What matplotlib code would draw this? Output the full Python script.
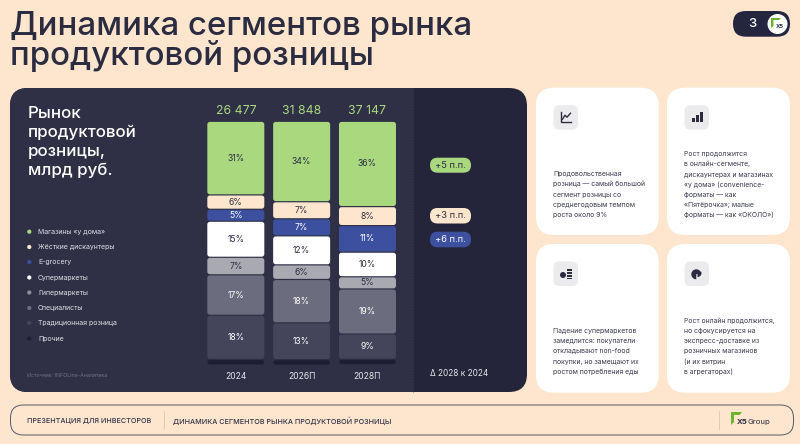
import matplotlib
matplotlib.use("Agg")
import matplotlib.pyplot as plt
from matplotlib.patches import FancyBboxPatch, Rectangle, Circle, Wedge, Polygon

plt.rcParams["font.family"] = ["Inter", "DejaVu Sans"]

# ---------- data ----------
years = ["2024", "2026П", "2028П"]
totals = ["26 477", "31 848", "37 147"]
segments = ["Магазины «у дома»", "Жёсткие дискаунтеры", "E-grocery", "Супермаркеты",
            "Гипермаркеты", "Специалисты", "Традиционная розница", "Прочие"]
# drawn shares
shops = [30.2, 33.0, 35.0]
discounters = [5.9, 7.0, 7.8]
egrocery = [4.9, 7.0, 10.9]
supers = [14.8, 11.9, 10.1]
hypers = [7.2, 6.0, 5.0]
specialists = [16.6, 17.8, 18.5]
traditional = [18.1, 15.1, 10.3]
others = [2.3, 2.3, 2.3]
series = [shops, discounters, egrocery, supers, hypers, specialists, traditional, others]
# printed labels
labels_2024 = ["31%", "6%", "5%", "15%", "7%", "17%", "18%", ""]
labels_2026 = ["34%", "7%", "7%", "12%", "6%", "18%", "13%", ""]
labels_2028 = ["36%", "8%", "11%", "10%", "5%", "19%", "9%", ""]
bar_labels = [labels_2024, labels_2026, labels_2028]
delta_labels = ["+5 п.п.", "+3 п.п.", "+6 п.п."]
delta_note = "∆ 2028 к 2024"
title_lines = ["Динамика сегментов рынка", "продуктовой розницы"]
panel_title = ["Рынок", "продуктовой", "розницы,", "млрд руб."]
source = "Источник: INFOLine-Аналитика"
card_texts = [
    ["Продовольственная", "розница — самый большой", "сегмент розницы со",
     "среднегодовым темпом", "роста около 9%"],
    ["Рост продолжится", "в онлайн-сегменте,", "дискаунтерах и магазинах",
     "«у дома» (convenience-", "форматы — как", "«Пятёрочка»; малые", "форматы — как «ОКОЛО»)"],
    ["Падение супермаркетов", "замедлится: покупатели", "откладывают non-food",
     "покупки, но замещают их", "ростом потребления еды"],
    ["Рост онлайн продолжится,", "но сфокусируется на", "экспресс-доставке из",
     "розничных магазинов", "(и их витрин", "в агрегаторах)"],
]
footer_left = "ПРЕЗЕНТАЦИЯ ДЛЯ ИНВЕСТОРОВ"
footer_right = "ДИНАМИКА СЕГМЕНТОВ РЫНКА ПРОДУКТОВОЙ РОЗНИЦЫ"

# ---------- style ----------
BG = "#fde6cd"; INK = "#2b2c40"; PANEL = "#2f3046"; PANEL_D = "#24253a"
GREEN = "#a9d87f"; BLUE = "#3d50a0"
seg_colors = [GREEN, BG, BLUE, "#ffffff", "#a9a9b2", "#6b6c7d", "#44445a", "#1d1e33"]
dot_colors = [GREEN, BG, BLUE, "#ffffff", "#8f8f9c", "#6b6c7d", "#44445a", "#1d1e33"]
label_colors = [INK, INK, "#ffffff", INK, INK, "#ffffff", "#ffffff", "#ffffff"]

W, H = 800, 444
fig = plt.figure(figsize=(W / 100, H / 100), dpi=100, facecolor=BG)
bg = fig.add_axes([0, 0, 1, 1])
bg.set_xlim(0, W); bg.set_ylim(H, 0); bg.axis("off")


def rbox(x0, y0, x1, y1, r, fc, ec="none", lw=0, z=1, ax=bg):
    p = FancyBboxPatch((x0, y0), x1 - x0, y1 - y0, boxstyle=f"round,pad=0,rounding_size={r}",
                       fc=fc, ec=ec, lw=lw, zorder=z)
    ax.add_patch(p)
    return p


def t(x, y, s, size, color=INK, ha="left", weight="normal", z=5, va="center"):
    return bg.text(x, y, s, fontsize=size, color=color, ha=ha, va=va, fontweight=weight, zorder=z)


# title
for s, y in zip(title_lines, [35, 65]):
    t(10, y, s, 23.8, INK, weight="medium", va="baseline")

# page pill
rbox(733, 11, 790, 36.7, 12.8, "#24253f")
t(752.5, 24, "3", 9.5, "#ffffff", ha="center", weight="medium")
bg.add_patch(Circle((777.5, 24), 10, fc="#ffffff", zorder=3))
bg.add_patch(Polygon([(771, 18), (781, 18), (779, 20), (773.5, 20), (773.5, 26), (771, 28)], fc="#6cb52d", zorder=4))
t(780, 26.5, "X5", 4.2, INK, ha="center", weight="bold")

# dark panel
rbox(10, 88, 527, 392, 18, PANEL_D, z=1)
left = rbox(10, 88, 527, 392, 18, PANEL, z=1.1)
left.set_clip_path(Rectangle((0, 0), 413, H, transform=bg.transData))
bg.plot([413, 413], [88, 392], color="#3c3d54", lw=0.5, ls=(0, (2, 2)), zorder=1.2)

for s, y in zip(panel_title, [113, 132.5, 151.5, 170]):
    t(27.5, y, s, 12.2, "#ffffff", weight="medium")

for s, c, y in zip(segments, dot_colors, [231.7, 247, 262, 277.5, 292.5, 308, 323, 338.5]):
    bg.add_patch(Circle((29.3, y), 2.1, fc=c, zorder=3))
    t(38, y, s, 5.0, "#dedee4")
t(27, 375.5, source, 3.8, "#6f7085")

# delta pills
for s, fc, tc, y0, y1 in zip(delta_labels, [GREEN, BG, BLUE], [INK, INK, "#ffffff"],
                             [157.7, 208, 231.7], [172.7, 223.5, 247.3]):
    rbox(430, y0, 471, y1, 7.5, fc, z=3)
    t(450.5, (y0 + y1) / 2, s, 6.7, tc, ha="center")
t(430.5, 373.3, delta_note, 6.0, "#e6e6ea")

# bars
ax = fig.add_axes([202.9 / W, 1 - 365 / H, (400.4 - 202.9) / W, (365 - 121.3) / H], zorder=2)
ax.patch.set_alpha(0)
ax.set_xlim(-0.5, 2.5); ax.set_ylim(0, 100)
for sp in ax.spines.values():
    sp.set_visible(False)
ax.set_xticks(range(3)); ax.set_xticklabels(years, fontsize=6.1, color="#e6e6ea")
ax.tick_params(axis="x", length=0, pad=5)
ax.set_yticks([])
px_x = 3 / (400.4 - 202.9); px_y = 100 / (365 - 121.3)
aspect = (px_y / px_x)
gap = 1.2 * px_y
width = 57 * px_x

tops = [100.0, 100.0, 100.0]
for k, vals in enumerate(series):
    bottoms = [tp - v for tp, v in zip(tops, vals)]
    rects = ax.bar(range(3), vals, width=width, bottom=bottoms, color=seg_colors[k])
    for i, r in enumerate(rects):
        r.set_visible(False)
        rr = 2.6 * px_x
        ax.add_patch(FancyBboxPatch((r.get_x(), r.get_y() + gap / 2), r.get_width(), r.get_height() - gap,
                                    boxstyle=f"round,pad=0,rounding_size={rr}", mutation_aspect=aspect,
                                    fc=seg_colors[k], ec="none"))
        lab = bar_labels[i][k]
        if lab:
            ax.text(i, r.get_y() + r.get_height() / 2, lab, ha="center", va="center",
                    fontsize=6.2, color=label_colors[k])
    tops = bottoms
for i, s in enumerate(totals):
    ax.text(i, 100 + 10.5 * px_y, s, ha="center", va="center", fontsize=8.8, color=GREEN, clip_on=False)

# cards
cards = [(536, 87.7, 658.7, 235), (667, 87.7, 790, 235), (536, 244, 658.7, 392.7), (667, 244, 790, 392.7)]
line_ys = [[174, 184, 194.5, 204.5, 215], [154, 164, 174.5, 184.5, 194.5, 204.5, 215],
           [331, 341, 351, 362, 372], [321, 331, 341, 351, 362, 372]]
for (x0, y0, x1, y1), lines, ys in zip(cards, card_texts, line_ys):
    rbox(x0, y0, x1, y1, 18, "#ffffff", z=1)
    ix, iy = x0 + 17.5, y0 + 17.5
    rbox(ix, iy, ix + 24.5, iy + 24.5, 6, "#ebebee", z=2)
    for s, y in zip(lines, ys):
        t(x0 + 17, y, s, 4.95, "#3a3b50")

# icons
ix, iy = 553.5, 105.2
bg.plot([ix + 7.5, ix + 7.5, ix + 17.5], [iy + 7, iy + 17, iy + 17], color=INK, lw=1, zorder=3)
bg.plot([ix + 9, ix + 11.5, ix + 13.5, ix + 17], [iy + 14, iy + 10, iy + 12, iy + 8], color=INK, lw=1, zorder=3)
ix, iy = 684.5, 105.2
for dx, hh in zip([7.5, 11.5, 15.5], [4.5, 7, 10]):
    bg.add_patch(Rectangle((ix + dx, iy + 17 - hh), 2.8, hh, fc=INK, zorder=3))
ix, iy = 553.5, 261.5
bg.add_patch(Circle((ix + 9.5, iy + 13.5), 3, fc=INK, zorder=3))
for dy in [7.5, 10.5, 13.5, 16]:
    bg.add_patch(Rectangle((ix + 13, iy + dy), 5, 1.7, fc=INK, zorder=3))
ix, iy = 684.5, 261.5
bg.add_patch(Wedge((ix + 11.8, iy + 12.8), 5, 90, 340, fc=INK, zorder=3))
bg.add_patch(Wedge((ix + 13, iy + 11.5), 4, -20, 90, fc=INK, zorder=3))

# footer
rbox(10.5, 405, 793.5, 435, 13, "none", ec="#55566a", lw=0.7, z=2)
t(27, 420.5, footer_left, 5.2, "#33344a", weight="medium")
t(173, 420.5, footer_right, 5.2, "#33344a", weight="medium")
bg.plot([163.5, 163.5], [411, 429], color="#d9c8b4", lw=0.6)
bg.plot([718.5, 718.5], [411, 429], color="#d9c8b4", lw=0.6)
bg.add_patch(Polygon([(731, 412), (742, 412), (739.5, 415), (734, 415), (734, 422), (731, 425)], fc="#6cb52d", zorder=4))
t(737, 421.5, "X5", 5.6, INK, weight="bold")
t(747.5, 421.5, "Group", 5.6, INK)

fig.savefig("out.png", dpi=100, facecolor=BG)
